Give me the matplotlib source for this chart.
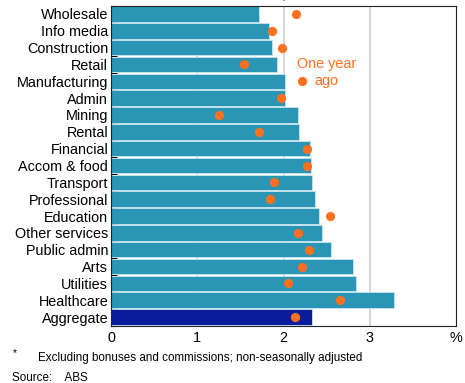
import matplotlib
matplotlib.use("Agg")
import matplotlib.pyplot as plt
import numpy as np

plt.rcParams['font.family'] = ['Liberation Sans', 'DejaVu Sans']

categories = ["Wholesale", "Info media", "Construction", "Retail", "Manufacturing",
              "Admin", "Mining", "Rental", "Financial", "Accom & food", "Transport",
              "Professional", "Education", "Other services", "Public admin", "Arts",
              "Utilities", "Healthcare", "Aggregate"]
current = [1.715, 1.835, 1.87, 1.93, 2.02, 2.02, 2.167, 2.18, 2.306, 2.314, 2.333,
           2.367, 2.41, 2.445, 2.55, 2.80, 2.84, 3.28, 2.333]
year_ago = [2.14, 1.865, 1.98, 1.545, 2.21, 1.97, 1.248, 1.715, 2.27, 2.275, 1.89,
            1.84, 2.54, 2.167, 2.29, 2.217, 2.055, 2.65, 2.13]
xticks = [0, 1, 2, 3]

teal = "#2a95b4"
navy = "#0a1c9c"
orange = "#ff6f20"

fig = plt.figure(figsize=(4.65, 3.83), dpi=100)
ax = fig.add_axes([111/465, 1-325.5/383, (456-111)/465, (325.5-5.5)/383])

y = np.arange(len(categories))
colors = [teal]*(len(categories)-1) + [navy]
ax.barh(y, current, height=0.92, color=colors, edgecolor="#c8e6f0", linewidth=0.6, zorder=2)
ax.scatter(year_ago, y, s=44, color=orange, zorder=4, linewidths=0)

ax.set_ylim(len(categories)-0.5, -0.5)
ax.set_xlim(0, 4)
ax.set_yticks(y)
ax.set_yticklabels(categories, fontsize=10.4)
ax.set_yticks(np.arange(len(categories)+1)-0.5, minor=True)
ax.tick_params(axis='y', which='major', length=0, pad=2)
ax.tick_params(axis='y', which='minor', length=4, direction='in', width=0.8)
ax.set_xticks(xticks + [4])
ax.set_xticklabels([str(t) for t in xticks] + ["%"], fontsize=10.4)
ax.tick_params(axis='x', length=0, pad=4)

for t in xticks[1:]:
    ax.axvline(t, color="#d0d0d0", linewidth=1.2, zorder=1)

for s in ax.spines.values():
    s.set_linewidth(0.8)
    s.set_color("#222222")

ax.text(2.50, 3.0, "One year", color=orange, fontsize=10.4, ha='center', va='center', zorder=5)
ax.text(2.36, 4.0, "ago", color=orange, fontsize=10.4, ha='left', va='center', zorder=5)

fig.text(283.5/465, 1-2/383, "Year ended, June 2019", ha='center', va='bottom', fontsize=10.4)

fig.text(13/465, 1-353/383, "*", fontsize=7.5, ha='left', va='center')
fig.text(38/465, 1-358/383, "Excluding bonuses and commissions; non-seasonally adjusted",
         fontsize=8.4, ha='left', va='center')
fig.text(12/465, 1-378/383, "Source:    ABS", fontsize=8.4, ha='left', va='center')

fig.savefig("out.png", dpi=100)
